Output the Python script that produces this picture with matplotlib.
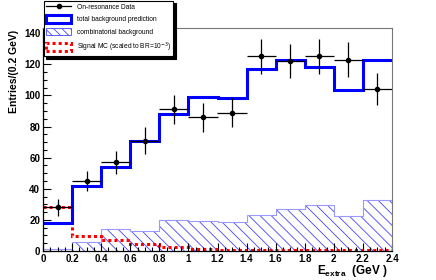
import numpy as np
import matplotlib
matplotlib.use("Agg")
import matplotlib.pyplot as plt
from matplotlib.lines import Line2D
from matplotlib.patches import Patch
from matplotlib.ticker import MultipleLocator

plt.rcParams['font.family'] = ['Liberation Sans', 'DejaVu Sans']
plt.rcParams['hatch.linewidth'] = 0.6

# bins in E_extra (GeV)
edges = np.linspace(0.0, 2.4, 13)
centers = 0.5 * (edges[:-1] + edges[1:])

# on-resonance data
data = [28, 45, 57, 71, 91, 86, 89, 125, 122, 125, 123, 104]
# total background prediction
total_bkg = [18, 42, 54, 71, 88, 99, 98, 117, 123, 118, 103.5, 122.5]
# combinatorial background
comb_bkg = [1.3, 5.6, 14, 13, 20, 19.5, 18.5, 23, 27, 29.5, 22.5, 33]
# signal MC (scaled to BR=1e-3)
signal = [28, 9.6, 7, 4.3, 2.8, 1.3, 0.6, 0.5, 0.4, 0.4, 0.4, 0.4]

W, H = 436, 280
fig = plt.figure(figsize=(W / 100, H / 100), dpi=100)
ax = fig.add_axes([43 / W, 1 - 251 / H, (392 - 43) / W, (251 - 28) / H])

ax.stairs(comb_bkg, edges, fill=True, facecolor='none', edgecolor='#4444ff',
          hatch='\\\\\\', lw=0.0, baseline=0)
ax.stairs(comb_bkg, edges, color='#9999ff', lw=0.8, baseline=None)
ax.stairs(signal, edges, color='red', ls=(0, (1, 1)), lw=2.2, baseline=None)
ax.stairs(total_bkg, edges, color='#0000ff', lw=2.2, baseline=None)
ax.errorbar(centers, data, xerr=0.1, yerr=np.sqrt(data), fmt='o', ms=3,
            color='black', ecolor='black', elinewidth=0.9, capsize=0)

ax.set_xlim(0, 2.4)
ax.set_ylim(0, 143.3)
ax.xaxis.set_major_locator(MultipleLocator(0.2))
ax.xaxis.set_minor_locator(MultipleLocator(0.05))
ax.yaxis.set_major_locator(MultipleLocator(20))
ax.yaxis.set_minor_locator(MultipleLocator(5))
ax.set_xticks(np.arange(0, 2.41, 0.2))
ax.set_xticklabels(['0', '0.2', '0.4', '0.6', '0.8', '1', '1.2', '1.4', '1.6',
                    '1.8', '2', '2.2', '2.4'])
ax.tick_params(which='both', direction='in', top=False, right=False,
               labelsize=7, width=0.8, pad=2)
ax.tick_params(which='major', length=6)
ax.tick_params(which='minor', length=3)
for lab in ax.get_xticklabels() + ax.get_yticklabels():
    lab.set_fontweight('bold')
for s in ['top', 'right']:
    ax.spines[s].set_color('#777777')
    ax.spines[s].set_linewidth(0.8)
for s in ['left', 'bottom']:
    ax.spines[s].set_linewidth(0.9)

fig.text(14 / W, 1 - 71 / H, 'Entries/(0.2 GeV)', rotation=90,
         fontsize=7.5, fontweight='bold', va='center', ha='center')
fig.text(317 / W, 1 - 271 / H, r'E$_{\mathregular{extra}}$  (GeV )',
         fontsize=8.5, fontweight='bold', va='center', ha='left')

handles = [
    Line2D([], [], color='black', marker='o', ms=3, lw=0.9),
    Patch(facecolor='none', edgecolor='#0000ff', lw=2.2),
    Patch(facecolor='none', edgecolor='#4444ff', hatch='\\\\\\\\', lw=0.6),
    Patch(facecolor='none', edgecolor='red', ls=(0, (1, 1)), lw=2.2),
]
labels = ['On-resonance Data', 'total background prediction',
          'combinatorial background', r'Signal MC (scaled to BR=10$^{-3}$)']
leg = fig.legend(handles, labels, loc='upper left',
                 bbox_to_anchor=(43 / W, 1.0), fontsize=4.8, frameon=True,
                 fancybox=False,
                 shadow={'color': 'black', 'alpha': 1.0, 'ox': 2, 'oy': -2},
                 handlelength=3.8, handleheight=1.4, labelspacing=0.65,
                 borderpad=0.35, handletextpad=0.8, borderaxespad=0.1)
leg.get_frame().set_edgecolor('black')
leg.get_frame().set_linewidth(0.8)

fig.savefig('out.png', dpi=100)
